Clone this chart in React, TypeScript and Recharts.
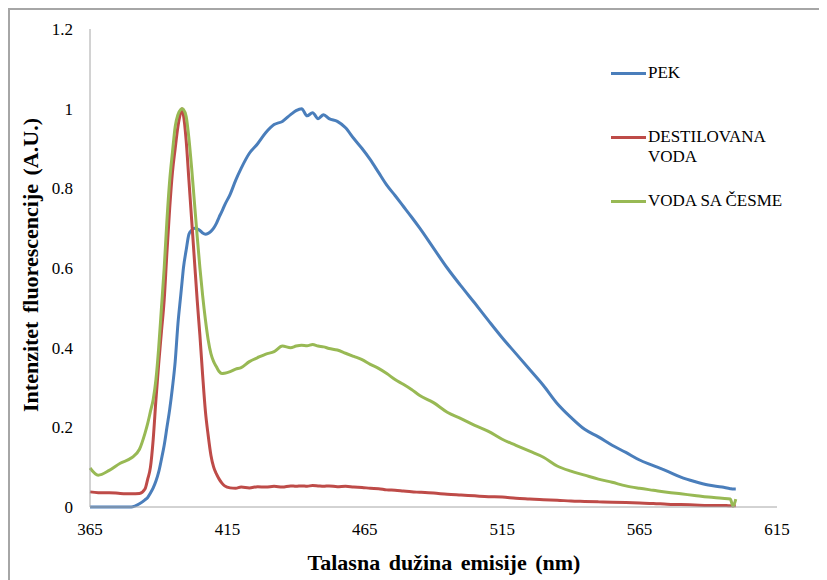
import { LineChart, Line, XAxis, YAxis, Legend, Label } from 'recharts';

const wavelengths = [
  365, 368, 372, 376, 380, 383, 385, 386, 387, 388, 389, 390, 391, 392, 393, 394, 395, 396, 397, 398,
  398.5, 399, 400, 401, 402, 403, 404, 405, 406, 407, 408, 409, 410, 411, 412, 413, 414, 416, 418, 420,
  423, 426, 429, 432, 435, 438, 440, 442, 444, 446, 448, 450, 452, 455, 458, 461, 464, 467, 470, 473,
  476, 479, 482, 485, 490, 495, 500, 505, 510, 515, 520, 525, 530, 535, 540, 545, 550, 555, 560, 565,
  570, 575, 580, 585, 590, 595, 598, 599, 600,
];

const pek = [
  0, 0, 0, 0, 0, 0.008, 0.018, 0.024, 0.035, 0.048, 0.065, 0.088, 0.12, 0.155, 0.2, 0.245, 0.3, 0.365, 0.46, 0.53,
  0.565, 0.6, 0.645, 0.685, 0.695, 0.7, 0.698, 0.694, 0.688, 0.685, 0.687, 0.692, 0.7, 0.712, 0.728, 0.742, 0.758, 0.785, 0.82, 0.85,
  0.888, 0.912, 0.94, 0.96, 0.968, 0.985, 0.995, 1.0, 0.982, 0.99, 0.975, 0.985, 0.975, 0.968, 0.952, 0.925, 0.9, 0.872, 0.84, 0.808,
  0.782, 0.755, 0.728, 0.7, 0.65, 0.6, 0.555, 0.512, 0.468, 0.425, 0.385, 0.345, 0.305, 0.26, 0.225, 0.195, 0.176, 0.155, 0.137, 0.118,
  0.104, 0.09, 0.075, 0.064, 0.055, 0.05, 0.046, 0.045, 0.045,
];

const destilovana = [
  0.038, 0.036, 0.036, 0.034, 0.033, 0.034, 0.045, 0.07, 0.1, 0.17, 0.27, 0.36, 0.44, 0.52, 0.64, 0.75, 0.84, 0.9, 0.955, 0.99,
  1.0, 0.985, 0.92, 0.82, 0.72, 0.62, 0.52, 0.43, 0.33, 0.24, 0.18, 0.13, 0.1, 0.083, 0.07, 0.06, 0.053, 0.048, 0.047, 0.05,
  0.048, 0.051, 0.05, 0.052, 0.05, 0.053, 0.052, 0.053, 0.052, 0.054, 0.053, 0.052, 0.053, 0.051, 0.052, 0.05, 0.049, 0.047, 0.046, 0.043,
  0.042, 0.04, 0.038, 0.037, 0.035, 0.032, 0.03, 0.028, 0.026, 0.025, 0.022, 0.02, 0.018, 0.017, 0.015, 0.014, 0.013, 0.012, 0.011, 0.01,
  0.009, 0.007, 0.006, 0.005, 0.004, 0.004, 0.003, 0.003, 0.003,
];

const cesma = [
  0.098, 0.08, 0.092, 0.11, 0.123, 0.145, 0.185, 0.21, 0.24, 0.27, 0.32, 0.4, 0.5, 0.6, 0.72, 0.82, 0.89, 0.955, 0.985, 0.998,
  1.0, 0.998, 0.98, 0.925, 0.85, 0.765, 0.68, 0.6, 0.53, 0.47, 0.42, 0.385, 0.365, 0.352, 0.34, 0.335, 0.336, 0.34, 0.346, 0.35,
  0.365, 0.375, 0.384, 0.39, 0.404, 0.4, 0.404, 0.406, 0.405, 0.408, 0.404, 0.402, 0.398, 0.394, 0.386, 0.378, 0.37, 0.358, 0.348, 0.335,
  0.32, 0.308, 0.295, 0.28, 0.262, 0.238, 0.222, 0.205, 0.19, 0.17, 0.155, 0.14, 0.125, 0.103, 0.09, 0.08, 0.07, 0.062, 0.053, 0.047,
  0.042, 0.037, 0.033, 0.029, 0.025, 0.022, 0.02, 0.002, 0.02,
];

const seriesNames = ['PEK', 'DESTILOVANA VODA', 'VODA SA ČESME'];
const xTicks = [365, 415, 465, 515, 565, 615];
const yTicks = [0, 0.2, 0.4, 0.6, 0.8, 1, 1.2];

const data = wavelengths.map((nm, i) => ({
  nm,
  pek: pek[i],
  destilovana: destilovana[i],
  cesma: cesma[i],
}));

const font = "'Liberation Serif', 'DejaVu Serif', 'Times New Roman', serif";
const axisColor = '#a6a6a6';

function SeriesLegend({ payload }: any) {
  const items = [...(payload || [])].sort(
    (a: any, b: any) => seriesNames.indexOf(a.value) - seriesNames.indexOf(b.value)
  );
  return (
    <div style={{ fontFamily: font, fontSize: 17, color: '#000' }}>
      {items.map((item: any) => (
        <div key={item.value} style={{ display: 'flex', alignItems: 'flex-start', height: 64 }}>
          <span
            style={{ width: 35, height: 3, background: item.color, marginTop: 9, marginRight: 2, flex: 'none' }}
          />
          <span style={{ width: 140, lineHeight: '20px' }}>{item.value}</span>
        </div>
      ))}
    </div>
  );
}

export default function App() {
  return (
    <div
      style={{
        width: 819,
        height: 572,
        borderTop: `2px solid ${axisColor}`,
        borderLeft: `2px solid ${axisColor}`,
        boxSizing: 'border-box',
        background: '#fff',
        fontFamily: font,
      }}
    >
      <LineChart width={817} height={570} data={data} margin={{ top: 19, right: 50, bottom: 13, left: 0 }}>
        <XAxis
          dataKey="nm"
          type="number"
          domain={[365, 615]}
          ticks={xTicks}
          height={60}
          tickLine={false}
          tickSize={0}
          tickMargin={16}
          stroke={axisColor}
          tick={{ fill: '#000', fontSize: 17, fontFamily: font }}
        >
          <Label
            content={() => (
              <text
                x={434}
                y={560}
                textAnchor="middle"
                style={{ fontFamily: font }}
                fontSize={22}
                fontWeight="bold"
                wordSpacing={3}
                fill="#000"
              >
                Talasna dužina emisije (nm)
              </text>
            )}
          />
        </XAxis>
        <YAxis
          type="number"
          domain={[0, 1.2]}
          ticks={yTicks}
          width={80}
          tickLine={false}
          tickSize={0}
          tickMargin={17}
          stroke={axisColor}
          tick={{ fill: '#000', fontSize: 17, fontFamily: font }}
        >
          <Label
            content={() => (
              <text
                x={20}
                y={255}
                transform="rotate(-90 20 255)"
                textAnchor="middle"
                dominantBaseline="central"
                style={{ fontFamily: font }}
                fontSize={22}
                fontWeight="bold"
                wordSpacing={3}
                fill="#000"
              >
                Intenzitet fluorescencije (A.U.)
              </text>
            )}
          />
        </YAxis>
        <Legend
          layout="vertical"
          align="center"
          verticalAlign="middle"
          content={<SeriesLegend />}
          wrapperStyle={{ top: 53, left: 601, width: 200 }}
        />
        <Line
          type="monotone"
          dataKey="pek"
          name="PEK"
          stroke="#4a7ebb"
          strokeWidth={3}
          dot={false}
          isAnimationActive={false}
        />
        <Line
          type="monotone"
          dataKey="destilovana"
          name="DESTILOVANA VODA"
          stroke="#be4b48"
          strokeWidth={3}
          dot={false}
          isAnimationActive={false}
        />
        <Line
          type="monotone"
          dataKey="cesma"
          name="VODA SA ČESME"
          stroke="#98b954"
          strokeWidth={3}
          dot={false}
          isAnimationActive={false}
        />
      </LineChart>
    </div>
  );
}
